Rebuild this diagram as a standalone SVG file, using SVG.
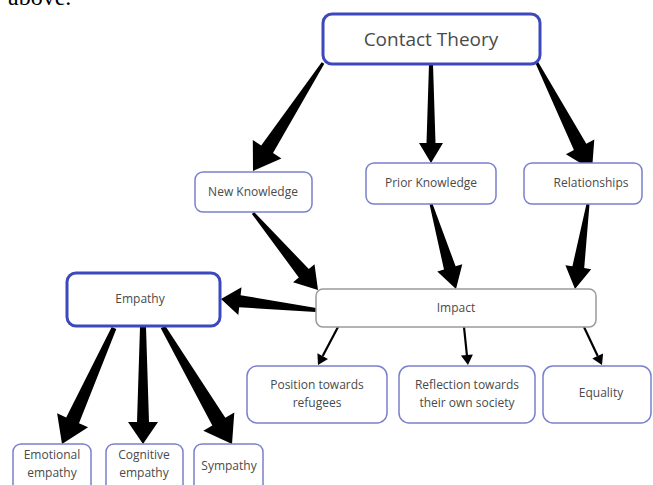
<svg xmlns="http://www.w3.org/2000/svg" width="653" height="485" viewBox="0 0 653 485">
<style>
.bg{fill:#ffffff}
.main{fill:#fff;stroke:#3e48bd;stroke-width:3}
.sub{fill:#fff;stroke:#7a80cc;stroke-width:1.5}
.gray{fill:#fff;stroke:#9a9a9a;stroke-width:1.5}
.t{font-family:"Open Sans","Noto Sans","DejaVu Sans",sans-serif;fill:#4a4a4a;text-anchor:middle}
.big{font-size:19px}
.sm{font-size:12px}
.arr{fill:#000}
.ln{stroke:#000;stroke-width:2.2;fill:none}
</style>
<rect class="bg" width="653" height="485"/>
<text x="8" y="5" font-family="Liberation Serif,serif" font-size="24" fill="#000">above.</text>
<g id="connectors">
<polygon class="arr" points="324.3,63.8 273.0,153.0 281.4,158.4 253,171 252.8,140.0 261.2,145.4 321.7,62.2"/>
<polygon class="arr" points="433,64 435.5,143 443,143 431,163 419,143 426.5,143 429,64"/>
<polygon class="arr" points="538.3,62.3 586.3,143.7 594.3,139.6 592,170 565.9,154.2 573.9,150.1 535.7,63.7"/>
<polygon class="arr" points="254.1,212.0 308.8,269.0 314.5,264.2 318,290 293.1,282.2 298.8,277.4 251.9,214.0"/>
<polygon class="arr" points="432.4,203.6 455.6,266.2 462.3,264.2 456,289 437.3,271.6 444.0,269.6 429.6,204.4"/>
<polygon class="arr" points="589.5,204.2 584.2,268.1 591.2,269.2 575,289 565.4,265.2 572.4,266.3 586.5,203.8"/>
<polygon class="arr" points="316.2,308.0 240.6,295.2 241.5,287.3 221,299 238.3,315.1 239.2,307.2 315.8,312.0"/>
<polygon class="arr" points="116.3,329.0 79.0,423.2 88.1,427.3 62,444 57.1,413.3 66.2,417.4 111.7,327.0"/>
<polygon class="arr" points="146,327 149,422 158,422 143,444 128,422 137,422 140,327"/>
<polygon class="arr" points="165.2,325.7 225.3,417.8 234.3,412.5 232,444 203.3,430.7 212.3,425.4 160.8,328.3"/>
<line class="ln" x1="338" y1="327" x2="322.7" y2="356.1"/>
<polygon class="arr" points="328.0,358.9 318,365 317.4,353.3"/>
<line class="ln" x1="464" y1="327" x2="466.9" y2="355.0"/>
<polygon class="arr" points="472.9,354.4 468,365 460.9,355.6"/>
<line class="ln" x1="584" y1="327" x2="597.7" y2="356.0"/>
<polygon class="arr" points="603.1,353.4 602,365 592.3,358.6"/>
</g>
<g id="contact-theory">
<rect class="main" x="323" y="14" width="217" height="50" rx="9"/>
<text class="t big" x="431" y="46">Contact Theory</text>
</g>
<g id="new-knowledge">
<rect class="sub" x="195" y="172" width="117" height="40" rx="8"/>
<text class="t sm" x="253" y="196">New Knowledge</text>
</g>
<g id="prior-knowledge">
<rect class="sub" x="366" y="163" width="130" height="41" rx="8"/>
<text class="t sm" x="431" y="187">Prior Knowledge</text>
</g>
<g id="relationships">
<rect class="sub" x="524" y="163" width="118" height="41" rx="8"/>
<text class="t sm" x="591" y="187">Relationships</text>
</g>
<g id="empathy">
<rect class="main" x="67" y="273" width="153" height="53" rx="9"/>
<text class="t sm" x="140" y="303">Empathy</text>
</g>
<g id="impact">
<rect class="gray" x="316" y="289" width="280" height="38" rx="7"/>
<text class="t sm" x="456" y="312">Impact</text>
</g>
<g id="position">
<rect class="sub" x="247" y="366" width="140" height="57" rx="10"/>
<text class="t sm" x="317" y="389">Position towards</text>
<text class="t sm" x="317" y="407">refugees</text>
</g>
<g id="reflection">
<rect class="sub" x="399" y="366" width="136" height="57" rx="10"/>
<text class="t sm" x="467" y="389">Reflection towards</text>
<text class="t sm" x="467" y="407">their own society</text>
</g>
<g id="equality">
<rect class="sub" x="543" y="366" width="108" height="57" rx="10"/>
<text class="t sm" x="601" y="397">Equality</text>
</g>
<g id="emotional-empathy">
<rect class="sub" x="13" y="444" width="78" height="50" rx="8"/>
<text class="t sm" x="52" y="459">Emotional</text>
<text class="t sm" x="52" y="477">empathy</text>
</g>
<g id="cognitive-empathy">
<rect class="sub" x="106" y="444" width="77" height="50" rx="8"/>
<text class="t sm" x="144" y="459">Cognitive</text>
<text class="t sm" x="144" y="477">empathy</text>
</g>
<g id="sympathy">
<rect class="sub" x="194" y="444" width="69" height="50" rx="8"/>
<text class="t sm" x="229" y="470">Sympathy</text>
</g>
</svg>
